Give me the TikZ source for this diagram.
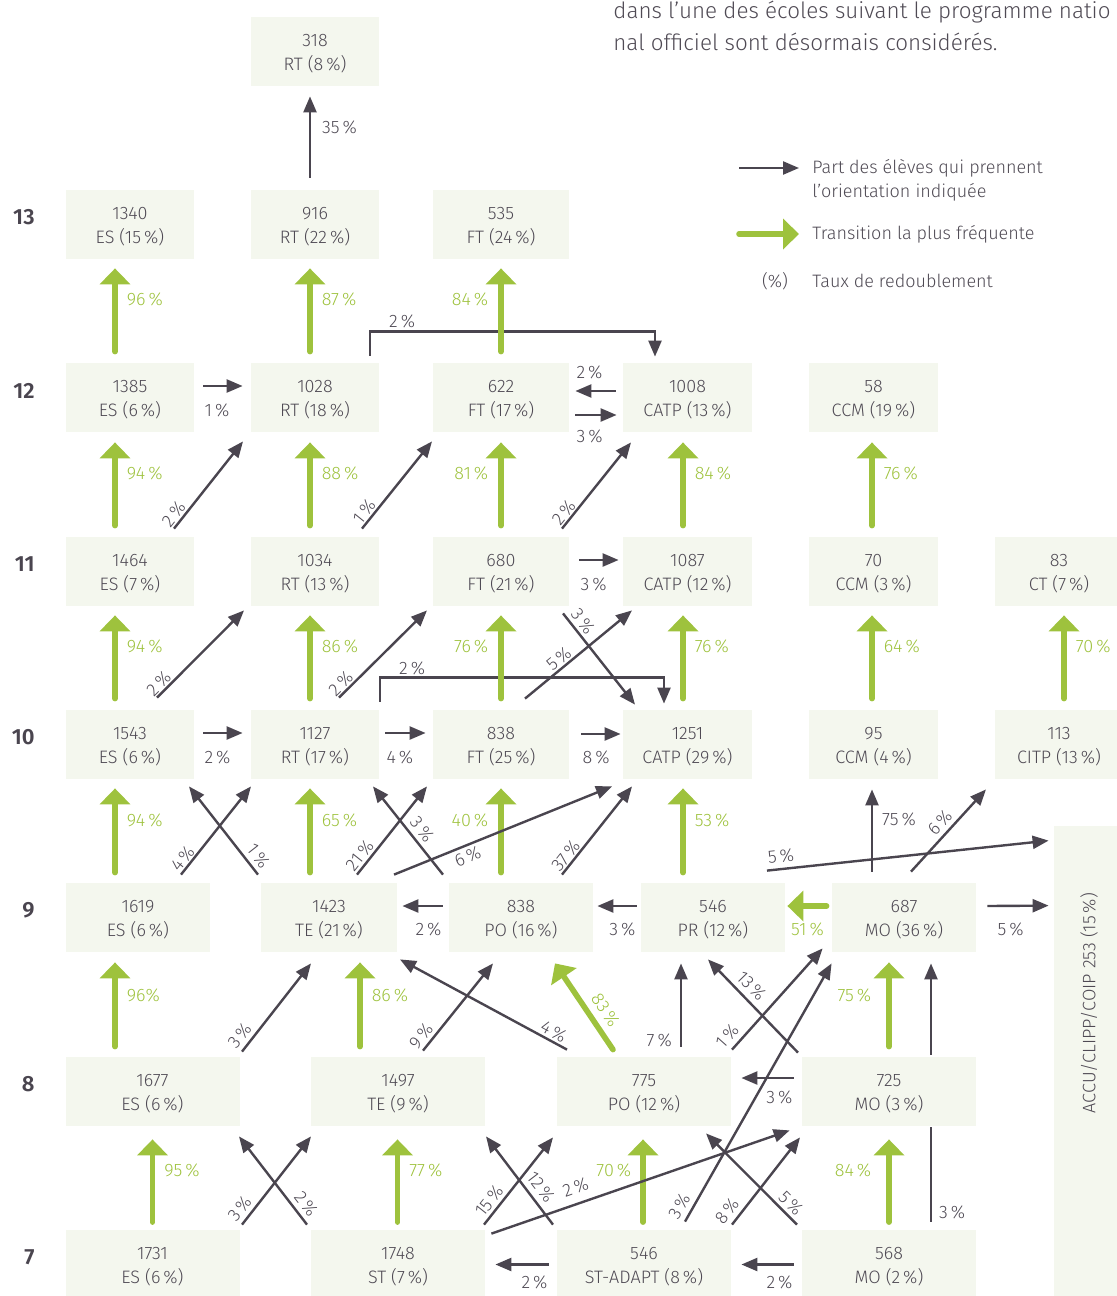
\documentclass[tikz,border=0pt]{standalone}
\usepackage{fontspec}
\setmainfont{Fira Sans Light}[BoldFont={Fira Sans SemiBold}]
\usetikzlibrary{arrows.meta, calc, positioning}
\definecolor{cellFill}{rgb}{0.957, 0.969, 0.933}
\definecolor{arrowGreen}{rgb}{0.62, 0.76, 0.24}
\definecolor{arrowDark}{rgb}{0.29, 0.27, 0.31}
\definecolor{textGrey}{rgb}{0.31, 0.29, 0.33}

\begin{document}
\begin{tikzpicture}[x=0.5pt, y=-0.5pt,
    cell/.style={fill=cellFill, text=textGrey, inner sep=0pt, minimum height=34.5pt,
                 align=center, font=\fontsize{9}{12}\selectfont, text height=20.3pt},
    cellS/.style={cell, minimum width=64pt},
    cellF/.style={cell, minimum width=68pt},
    cellC/.style={cell, minimum width=64.5pt},
    cellM/.style={cell, minimum width=72pt},
    cellL/.style={cell, minimum width=87pt},
    grade/.style={anchor=east, inner sep=0pt, text=arrowDark, font=\fontsize{11}{13}\selectfont\bfseries},
    txt/.style={inner sep=0pt, text=textGrey, font=\fontsize{9}{12}\selectfont},
    toptxt/.style={inner sep=0pt, text=textGrey, font=\fontsize{11.2}{16}\selectfont},
    lbl/.style={txt},
    glbl/.style={inner sep=0pt, text=arrowGreen, font=\fontsize{9}{12}\selectfont},
    dk/.style={draw=arrowDark, line width=1.2pt, -{Triangle[length=8pt, width=6.5pt]}},
    dkline/.style={draw=arrowDark, line width=1.2pt},
    grn/.style={draw=arrowGreen, line width=2.8pt, line cap=round, -{Triangle[length=8pt, width=15pt]}}
]
\useasboundingbox (0,0) rectangle (1117,1296);

% intro text and legend
\node[toptxt, anchor=base west] (intro1) at (613,18) {dans l’une des écoles suivant le programme natio};
\node[toptxt, anchor=base west] (intro2) at (613,50) {nal officiel sont désormais considérés.};

\node[txt, anchor=west, align=left] (lgText1) at (812,180) {Part des élèves qui prennent\\l’orientation indiquée};
\coordinate (lgDark) at (739,168);
\draw[dk, shorten >=6.5pt] (lgDark) -- (lgDark -| lgText1.west);
\node[txt, anchor=west] (lgText2) at (812,234) {Transition la plus fréquente};
\coordinate (lgGreen) at (739,234);
\draw[grn, shorten >=6.5pt] (lgGreen) -- (lgGreen -| lgText2.west);
\node[txt] (lgPct) at (775,281) {(\%)};
\node[txt, anchor=west] (lgText3) at (812,281) {Taux de redoublement};

% grades
\node[grade] (g13) at (35,217) {13};
\node[grade] (g12) at (35,390.5) {12};
\node[grade] (g11) at (35,564) {11};
\node[grade] (g10) at (35,737) {10};
\node[grade] (g9) at (35,910.5) {9};
\node[grade] (g8) at (35,1084) {8};
\node[grade] (g7) at (35,1257.5) {7};

% cells
\node[cellS] (rt14) at (315,51) {318\\RT (8\,\%)};

\node[cellS] (es13) at (130,224) {1340\\ES (15\,\%)};
\node[cellS] (rt13) at (315,224) {916\\RT (22\,\%)};
\node[cellF] (ft13) at (501,224) {535\\FT (24\,\%)};

\node[cellS] (es12) at (130,397.5) {1385\\ES (6\,\%)};
\node[cellS] (rt12) at (315,397.5) {1028\\RT (18\,\%)};
\node[cellF] (ft12) at (501,397.5) {622\\FT (17\,\%)};
\node[cellC] (catp12) at (687.5,397.5) {1008\\CATP (13\,\%)};
\node[cellC] (ccm12) at (873.5,397.5) {58\\CCM (19\,\%)};

\node[cellS] (es11) at (130,571) {1464\\ES (7\,\%)};
\node[cellS] (rt11) at (315,571) {1034\\RT (13\,\%)};
\node[cellF] (ft11) at (501,571) {680\\FT (21\,\%)};
\node[cellC] (catp11) at (687.5,571) {1087\\CATP (12\,\%)};
\node[cellC] (ccm11) at (873.5,571) {70\\CCM (3\,\%)};
\node[cellS] (ct11) at (1059,571) {83\\CT (7\,\%)};

\node[cellS] (es10) at (130,744) {1543\\ES (6\,\%)};
\node[cellS] (rt10) at (315,744) {1127\\RT (17\,\%)};
\node[cellF] (ft10) at (501,744) {838\\FT (25\,\%)};
\node[cellC] (catp10) at (687.5,744) {1251\\CATP (29\,\%)};
\node[cellC] (ccm10) at (873.5,744) {95\\CCM (4\,\%)};
\node[cellS] (citp10) at (1059,744) {113\\CITP (13\,\%)};

\node[cellM] (es9) at (138,917.5) {1619\\ES (6\,\%)};
\node[cellF] (te9) at (329,917.5) {1423\\TE (21\,\%)};
\node[cellM] (po9) at (521,917.5) {838\\PO (16\,\%)};
\node[cellM] (pr9) at (713,917.5) {546\\PR (12\,\%)};
\node[cellM] (mo9) at (904,917.5) {687\\MO (36\,\%)};

\node[cellL] (es8) at (152.5,1091) {1677\\ES (6\,\%)};
\node[cellL] (te8) at (398,1091) {1497\\TE (9\,\%)};
\node[cellL] (po8) at (644,1091) {775\\PO (12\,\%)};
\node[cellL] (mo8) at (889,1091) {725\\MO (3\,\%)};

\node[cellL] (es7) at (152.5,1264.5) {1731\\ES (6\,\%)};
\node[cellL] (st7) at (398,1264.5) {1748\\ST (7\,\%)};
\node[cellL] (sta7) at (644,1264.5) {546\\ST-ADAPT (8\,\%)};
\node[cellL] (mo7) at (889,1264.5) {568\\MO (2\,\%)};

\node[fill=cellFill, inner sep=0pt, minimum width=38pt, minimum height=242pt] (accu) at (1092,1068) {};
\node[txt, rotate=90] (accuLabel) at (1089,1003) {ACCU/CLIPP/COIP 253 (15\,\%)};

% grade 13 -> 14
\draw[dk] ($(rt13.north)+(-5,-11.5)$) -- node[lbl, pos=0.62, right=5.5pt] {35\,\%} ($(rt14.south)+(-5,10.5)$);

% grade 12 -> 13
\draw[dk] ($(rt12.north)+(55,-7)$) -- ++(0,-24) node[lbl, anchor=west, xshift=9pt, yshift=5pt] {2\,\%} -| ($(catp12.north)+(-32.5,-6)$);
\draw[grn] ($(es12.north)+(-15,-11)$) -- node[glbl, pos=0.63, right=4.5pt] {96\,\%} ($(es13.south)+(-15,9.5)$);
\draw[grn] ($(rt12.north)+(-5,-11)$) -- node[glbl, pos=0.63, right=4.5pt] {87\,\%} ($(rt13.south)+(-5,9.5)$);
\draw[grn] ($(ft12.north)+(0,-11)$) -- node[glbl, pos=0.63, left=5pt] {84\,\%} ($(ft13.south)+(0,9.5)$);

% grade 12 sideways
\draw[dk] ($(es12.east)+(9,-11.5)$) -- node[lbl, pos=0, anchor=west, yshift=-12pt] {1\,\%} ($(rt12.west)+(-8,-11.5)$);
\draw[dk] ($(catp12.west)+(-7,-6.5)$) -- node[lbl, pos=1, anchor=west, yshift=9.5pt] {2\,\%} ($(ft12.east)+(6,-6.5)$);
\draw[dk] ($(ft12.east)+(6,17.5)$) -- node[lbl, pos=0, anchor=west, yshift=-10.5pt] {3\,\%} ($(catp12.west)+(-6,17.5)$);

% grade 11 -> 12
\draw[grn] ($(es11.north)+(-15,-10.5)$) -- node[glbl, pos=0.63, right=4.5pt] {94\,\%} ($(es12.south)+(-15,10)$);
\draw[grn] ($(rt11.north)+(-5,-10.5)$) -- node[glbl, pos=0.63, right=4.5pt] {88\,\%} ($(rt12.south)+(-5,10)$);
\draw[grn] ($(ft11.north)+(0,-10.5)$) -- node[glbl, pos=0.63, left=5pt] {81\,\%} ($(ft12.south)+(0,10)$);
\draw[grn] ($(catp11.north)+(-4.5,-10.5)$) -- node[glbl, pos=0.63, right=4.5pt] {84\,\%} ($(catp12.south)+(-4.5,10)$);
\draw[grn] ($(ccm11.north)+(-1.5,-10.5)$) -- node[glbl, pos=0.63, right=4.5pt] {76\,\%} ($(ccm12.south)+(-1.5,10)$);
\draw[dk] ($(es11.north)+(44,-7.5)$) -- node[lbl, pos=0.10, sloped, above=0.8pt] {2\,\%} ($(rt12.south)+(-72,9)$);
\draw[dk] ($(rt11.north)+(47,-7.5)$) -- node[lbl, pos=0.13, sloped, above=0.7pt] {1\,\%} ($(ft12.south)+(-69,9)$);
\draw[dk] ($(ft11.north)+(61,-7.5)$) -- node[lbl, pos=0.12, sloped, above=0.3pt] {2\,\%} ($(catp12.south)+(-56.5,10)$);

% grade 11 sideways
\draw[dk] ($(ft11.east)+(10,-11)$) -- node[lbl, pos=0, anchor=west, yshift=-12pt] {3\,\%} ($(catp11.west)+(-4,-11)$);

% grade 10 -> 11
\draw[dk] ($(rt10.north)+(65,-7.5)$) -- ++(0,-24) node[lbl, anchor=west, xshift=9pt, yshift=4.5pt] {2\,\%} -| ($(catp10.north)+(-23.5,-5.5)$);
\draw[grn] ($(es10.north)+(-15,-10.5)$) -- node[glbl, pos=0.63, right=4.5pt] {94\,\%} ($(es11.south)+(-15,9.5)$);
\draw[grn] ($(rt10.north)+(-5,-10.5)$) -- node[glbl, pos=0.63, right=4.5pt] {86\,\%} ($(rt11.south)+(-5,9.5)$);
\draw[grn] ($(ft10.north)+(0,-10.5)$) -- node[glbl, pos=0.63, left=5pt] {76\,\%} ($(ft11.south)+(0,9.5)$);
\draw[grn] ($(catp10.north)+(-4.5,-10.5)$) -- node[glbl, pos=0.63, right=4.5pt] {76\,\%} ($(catp11.south)+(-4.5,9.5)$);
\draw[grn] ($(ccm10.north)+(-1.5,-10.5)$) -- node[glbl, pos=0.63, right=4.5pt] {64\,\%} ($(ccm11.south)+(-1.5,9.5)$);
\draw[grn] ($(citp10.north)+(5,-10.5)$) -- node[glbl, pos=0.63, right=4.5pt] {70\,\%} ($(ct11.south)+(5,9.5)$);
\draw[dk] ($(es10.north)+(27,-11.5)$) -- node[lbl, pos=0.09, sloped, above=0.5pt] {2\,\%} ($(rt11.south)+(-71,4.5)$);
\draw[dk] ($(rt10.north)+(24,-11.5)$) -- node[lbl, pos=0.09, sloped, above=0.5pt] {2\,\%} ($(ft11.south)+(-74,4.5)$);
\draw[dk] ($(ft10.north)+(24,-10.5)$) -- node[lbl, pos=0.37, sloped, above=0.7pt] {5\,\%} ($(catp11.south)+(-55.5,4.5)$);
\draw[dk] ($(ft11.south)+(62,7.5)$) -- node[lbl, pos=0.16, sloped, above=1.5pt] {3\,\%} ($(catp10.north)+(-52.5,-4.5)$);

% grade 10 sideways
\draw[dk] ($(es10.east)+(9,-11)$) -- node[lbl, pos=0, anchor=west, yshift=-12pt] {2\,\%} ($(rt10.west)+(-8,-11)$);
\draw[dk] ($(rt10.east)+(6,-11)$) -- node[lbl, pos=0, anchor=west, yshift=-12pt] {4\,\%} ($(ft10.west)+(-7,-11)$);
\draw[dk] ($(ft10.east)+(12,-10)$) -- node[lbl, pos=0, anchor=west, yshift=-11.5pt] {8\,\%} ($(catp10.west)+(-2,-10)$);

% grade 9 -> 10
\draw[grn] ($(es9.north)+(-23,-10)$) -- node[glbl, pos=0.62, right=4.5pt] {94\,\%} ($(es10.south)+(-15,9.5)$);
\draw[grn] ($(te9.north)+(-19,-10)$) -- node[glbl, pos=0.62, right=4.5pt] {65\,\%} ($(rt10.south)+(-5,9.5)$);
\draw[grn] ($(po9.north)+(-20,-10)$) -- node[glbl, pos=0.62, left=5pt] {40\,\%} ($(ft10.south)+(0,9.5)$);
\draw[grn] ($(pr9.north)+(-30,-10)$) -- node[glbl, pos=0.62, right=4.5pt] {53\,\%} ($(catp10.south)+(-4.5,9.5)$);
\draw[dk] ($(es9.north)+(43,-8)$) -- node[lbl, pos=0.12, sloped, above=0.5pt] {4\,\%} ($(rt10.south)+(-64,7.5)$);
\draw[dk] ($(te9.north)+(-71,-8)$) -- node[lbl, pos=0.13, sloped, above=2pt] {1\,\%} ($(es10.south)+(59,7.5)$);
\draw[dk] ($(te9.north)+(28,-8)$) -- node[lbl, pos=0.147, sloped, above=1pt] {21\,\%} ($(ft10.south)+(-74,7.5)$);
\draw[dk] ($(po9.north)+(-78,-8)$) -- node[lbl, pos=0.43, sloped, above=2pt] {3\,\%} ($(rt10.south)+(58,7.5)$);
\draw[dk] ($(te9.north)+(65,-8)$) -- node[lbl, pos=0.32, sloped, below=1.5pt] {6\,\%} ($(catp10.south)+(-75.5,7.5)$);
\draw[dk] ($(po9.north)+(41,-8)$) -- node[lbl, pos=0.15, sloped, above=0.5pt] {37\,\%} ($(catp10.south)+(-55.5,7.5)$);
\draw[dk] ($(mo9.north)+(-32,-11)$) -- node[lbl, pos=0.63, right=4.5pt] {75\,\%} ($(ccm10.south)+(-1.5,10.5)$);
\draw[dk] ($(mo9.north)+(7,-11)$) -- node[lbl, pos=0.50, sloped, above=2pt] {6\,\%} ($(citp10.south)+(-73,10.5)$);
\draw[dk] ($(pr9.north)+(54,-12)$) -- node[lbl, pos=0.054, sloped, above=2.5pt] {5\,\%} ($(accu.north west)+(-5,15)$);

% grade 9 sideways
\draw[dk] ($(po9.west)+(-6,-11.5)$) -- node[lbl, pos=0, anchor=east, yshift=-11.5pt] {2\,\%} ($(te9.east)+(5,-11.5)$);
\draw[dk] ($(pr9.west)+(-4,-11.5)$) -- node[lbl, pos=0, anchor=east, yshift=-11.5pt] {3\,\%} ($(po9.east)+(4,-11.5)$);
\draw[grn] ($(mo9.west)+(-5,-11.5)$) -- node[glbl, pos=0, anchor=east, yshift=-11.5pt] {51\,\%} ($(pr9.east)+(2,-11.5)$);
\draw[dk] ($(mo9.east)+(11,-11.5)$) -- node[lbl, pos=0, anchor=west, xshift=4.5pt, yshift=-11.5pt] {5\,\%} ($(accu.north west)+(-5,80)$);

% grade 8 -> 9
\draw[grn] ($(es8.north)+(-37.5,-9.5)$) -- node[glbl, pos=0.61, right=4.5pt] {96\%} ($(es9.south)+(-23,10)$);
\draw[grn] ($(te8.north)+(-38,-9.5)$) -- node[glbl, pos=0.61, right=4.5pt] {86\,\%} ($(te9.south)+(31,10)$);
\draw[grn] ($(mo8.north)+(0,-9.5)$) -- node[glbl, pos=0.61, left=7.5pt] {75\,\%} ($(mo9.south)+(-15,10)$);
\draw[grn] ($(po8.north)+(-31,-6.5)$) -- node[glbl, pos=0.355, sloped, above=3.2pt] {83\,\%} ($(po9.south)+(34,11)$);
\draw[dk] ($(es8.north)+(89.5,-4.5)$) -- node[lbl, pos=0.10, sloped, above=2pt] {3\,\%} ($(te9.south)+(-18,11)$);
\draw[dk] ($(te8.north)+(25,-5.5)$) -- node[lbl, pos=0.09, sloped, above=1.5pt] {9\,\%} ($(po9.south)+(-28,11)$);
\draw[dk] ($(po8.north)+(-77,-6.5)$) -- node[lbl, pos=0.107, sloped, above=1pt] {4\,\%} ($(te9.south)+(71,7)$);
\draw[dk] ($(po8.north)+(37,-9.5)$) -- node[lbl, pos=0.08, left=4pt] {7\,\%} ($(pr9.south)+(-32,11)$);
\draw[dk] ($(po8.north)+(88,-6.5)$) -- node[lbl, pos=0.05, sloped, above=2.5pt] {1\,\%} ($(mo9.south west)+(-9,-4)$);
\draw[dk] ($(mo8.north)+(-91,-3.5)$) -- node[lbl, pos=0.62, sloped, above=2.5pt] {13\,\%} ($(pr9.south)+(-5,7)$);
\draw[dk] ($(mo8.north)+(42,-1.5)$) -- ($(mo9.south)+(27,11)$);

% grade 8 sideways
\draw[dk] ($(mo8.west)+(-8,-13)$) -- node[lbl, pos=0, anchor=east, yshift=-9.5pt] {3\,\%} ($(po8.east)+(10,-13)$);

% grade 7 -> 8
\draw[grn] ($(es7.north)+(0,-7.5)$) -- node[glbl, pos=0.63, right=4.5pt] {95\,\%} ($(es8.south)+(0,13.5)$);
\draw[grn] ($(st7.north)+(-0.5,-7.5)$) -- node[glbl, pos=0.63, right=4.5pt] {77\,\%} ($(te8.south)+(-0.5,13.5)$);
\draw[grn] ($(sta7.north)+(-1,-7.5)$) -- node[glbl, pos=0.63, left=4.5pt] {70\,\%} ($(po8.south)+(-1,13.5)$);
\draw[grn] ($(mo7.north)+(0,-7.5)$) -- node[glbl, pos=0.63, left=7.5pt] {84\,\%} ($(mo8.south)+(0,13.5)$);
\draw[dk] ($(es7.north)+(89.5,-5)$) -- node[lbl, pos=0.10, sloped, above=2pt] {3\,\%} ($(te8.south)+(-87,10.5)$);
\draw[dk] ($(st7.north)+(-91,-5)$) -- node[lbl, pos=0.15, sloped, above=2pt] {2\,\%} ($(es8.south)+(86.5,10.5)$);
\draw[dk] ($(st7.north)+(86,-5)$) -- node[lbl, pos=0.195, sloped, above=1.5pt] {15\,\%} ($(po8.south)+(-91,11.5)$);
\draw[dk] ($(sta7.north)+(-91,-5)$) -- node[lbl, pos=0.335, sloped, above=2.5pt] {12\,\%} ($(te8.south)+(88,10.5)$);
\draw[dk] ($(st7.north east)+(6,4)$) -- node[lbl, pos=0.30, sloped, above=4pt] {2\,\%} ($(mo8.south west)+(-12,4.5)$);
\draw[dk] ($(sta7.north)+(88,-5)$) -- node[lbl, pos=0.07, sloped, above=2.5pt] {8\,\%} ($(mo8.south)+(-89,11.5)$);
\draw[dk] ($(mo7.north)+(-92,-5)$) -- node[lbl, pos=0.15, sloped, above=1.5pt] {5\,\%} ($(po8.south)+(62,7.5)$);
\draw[dk] ($(sta7.north)+(41,-8)$) -- node[lbl, pos=0.036, sloped, above=2.5pt] {3\,\%} ($(mo9.south west)+(0,11)$);
\draw[dkline] ($(mo7.north)+(42,-8)$) -- node[lbl, pos=0.1, right=3.5pt] {3\,\%} ($(mo8.south)+(42,1.5)$);

% grade 7 sideways
\draw[dk] ($(sta7.west)+(-8,0)$) -- node[lbl, pos=0, anchor=east, yshift=-9pt] {2\,\%} ($(st7.east)+(10,0)$);
\draw[dk] ($(mo7.west)+(-8,0)$) -- node[lbl, pos=0, anchor=east, yshift=-9pt] {2\,\%} ($(sta7.east)+(10,0)$);

\end{tikzpicture}
\end{document}
